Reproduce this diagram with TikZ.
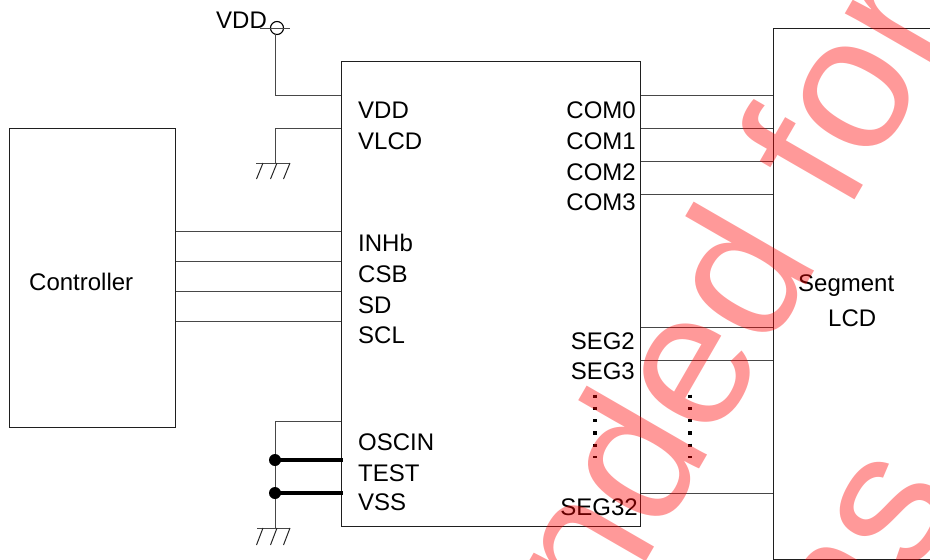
\documentclass[tikz,border=0pt]{standalone}
\usepackage{fontspec}
\setmainfont{Liberation Sans}
\tikzset{
  x=1pt,y=-1pt,
  wire/.style={draw=black!72,line width=1pt},
  boxnode/.style={draw=black!88,line width=1pt,rectangle,inner sep=0pt,anchor=north west},
  pinl/.style={inner sep=0pt,anchor=base west,font=\fontsize{24}{26}\selectfont},
  pinr/.style={inner sep=0pt,anchor=base east,font=\fontsize{24}{26}\selectfont},
  thickwire/.style={draw=black,line width=4pt},
  dotcol/.style={draw=black,line width=3.2pt,dash pattern=on 3.2pt off 9.1pt},
  wmark/.style={inner sep=0pt,anchor=base west,rotate=60,text=red,text opacity=.4,font=\fontsize{191.5}{200}\selectfont},
}
\begin{document}
\begin{tikzpicture}
\useasboundingbox (0,0) rectangle (930,560);
\clip (0,0) rectangle (930,560);
% boxes
\node[boxnode,minimum width=166pt,minimum height=299pt] (ctrl) at (9,127.5) {};
\node[boxnode,minimum width=299pt,minimum height=465pt] (ic) at (341,61) {};
\node[boxnode,minimum width=200pt,minimum height=531pt] (lcd) at (773,28) {};
% box labels
\node[pinl] (tctrl) at (29,290) {Controller};
\node[pinl] (tseg) at (798,291) {Segment};
\node[pinl] (tlcd) at (828,326) {LCD};
% left pins
\node[pinl] (tvdd) at (358,118) {VDD};
\node[pinl] (tvlcd) at (358,149) {VLCD};
\node[pinl] (tinh) at (358,251) {INHb};
\node[pinl] (tcsb) at (358,282) {CSB};
\node[pinl] (tsd) at (358,313) {SD};
\node[pinl] (tscl) at (358,343) {SCL};
\node[pinl] (tosc) at (358,450) {OSCIN};
\node[pinl] (ttest) at (358,481) {TEST};
\node[pinl] (tvss) at (358,510) {VSS};
% right pins
\node[pinr] (tc0) at (636,118) {COM0};
\node[pinr] (tc1) at (636,149) {COM1};
\node[pinr] (tc2) at (636,180) {COM2};
\node[pinr] (tc3) at (636,210) {COM3};
\node[pinr] (ts2) at (635,349) {SEG2};
\node[pinr] (ts3) at (635,379) {SEG3};
\node[pinr] (ts32) at (638,515) {SEG32};
% controller bus
\foreach \yy in {231,261,291,321} \draw[wire] (ctrl.east |- 0,\yy) -- (ic.west |- 0,\yy);
% LCD bus
\foreach \yy in {95,128,161,194,327,360,493} \draw[wire] (ic.east |- 0,\yy) -- (lcd.west |- 0,\yy);
% VDD supply
\node[pinl] (tvddtop) at (216,28.5) {VDD};
\node[draw=black,line width=1.1pt,circle,minimum size=13pt,inner sep=0pt] (vc) at (277,28) {};
\coordinate (vl) at (260,28);
\coordinate (vr) at (290,28);
\draw[wire] (vl) -- (vr);
\coordinate (vs) at (275,33.5);
\draw[wire] (vs) |- (ic.west |- 0,95);
% ground 1
\coordinate (g1) at (275,163);
\draw[wire] (ic.west |- 0,128) -| (g1);
\draw[wire] (256,163) -- (290,163);
\foreach \xx in {263,277,290} \draw[draw=black!85,line width=1pt] (\xx,163) -- (\xx-6.5,179);
% ground 2
\coordinate (g2) at (275,528);
\draw[wire] (ic.west |- 0,421) -| (g2);
\draw[wire] (257,528) -- (290,528);
\foreach \xx in {263,277,290} \draw[draw=black!85,line width=1pt] (\xx,528) -- (\xx-6.5,545);
% tied pins
\coordinate (j1) at (275,460);
\coordinate (j2) at (275,493);
\fill (j1) circle (6pt);
\fill (j2) circle (6pt);
\draw[thickwire] (j1) -- (343,460);
\draw[thickwire] (j2) -- (343,493);
% dots
\coordinate (da1) at (595,394.5);
\coordinate (da2) at (595,458);
\coordinate (db1) at (690,394.5);
\coordinate (db2) at (690,458);
\draw[dotcol] (da1) -- (da2);
\draw[dotcol] (db1) -- (db2);
% watermark
\node[wmark] (wm1) at (607.2,629.1) {nded for};
\node[wmark] (wm2) at (860,671) {ns};
\end{tikzpicture}
\end{document}
